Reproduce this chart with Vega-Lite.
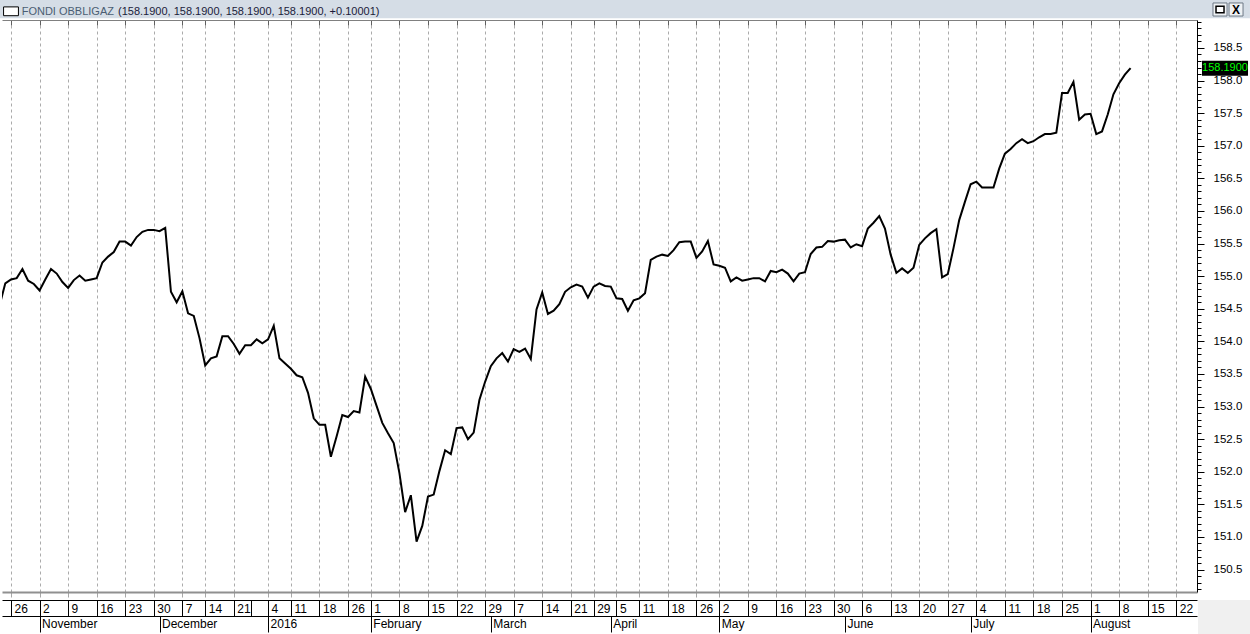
{
  "$schema": "https://vega.github.io/schema/vega-lite/v6.json",
  "width": 1195,
  "height": 572,
  "autosize": {"type": "none"},
  "padding": {"left": 2, "top": 20, "right": 53, "bottom": 42},
  "background": "white",
  "config": {"view": {"stroke": null}, "font": "Liberation Sans"},
  "datasets": {
    "nav": [
      {"i":-2,"v":154.55},{"i":-1,"v":154.89},{"i":0,"v":154.95},{"i":1,"v":154.97},{"i":2,"v":155.11},{"i":3,"v":154.93},{"i":4,"v":154.88},{"i":5,"v":154.78},{"i":6,"v":154.95},{"i":7,"v":155.11},{"i":8,"v":155.04},{"i":9,"v":154.91},{"i":10,"v":154.82},{"i":11,"v":154.94},{"i":12,"v":155.01},{"i":13,"v":154.93},{"i":14,"v":154.95},{"i":15,"v":154.97},{"i":16,"v":155.21},{"i":17,"v":155.30},{"i":18,"v":155.37},{"i":19,"v":155.53},{"i":20,"v":155.53},{"i":21,"v":155.47},{"i":22,"v":155.60},{"i":23,"v":155.68},{"i":24,"v":155.71},{"i":25,"v":155.71},{"i":26,"v":155.69},{"i":27,"v":155.74},{"i":28,"v":154.76},{"i":29,"v":154.60},
      {"i":30,"v":154.77},{"i":31,"v":154.43},{"i":32,"v":154.39},{"i":33,"v":154.05},{"i":34,"v":153.63},{"i":35,"v":153.74},{"i":36,"v":153.77},{"i":37,"v":154.08},{"i":38,"v":154.08},{"i":39,"v":153.96},{"i":40,"v":153.81},{"i":41,"v":153.94},{"i":42,"v":153.94},{"i":43,"v":154.03},{"i":44,"v":153.97},{"i":45,"v":154.03},{"i":46,"v":154.24},{"i":47,"v":153.74},{"i":48,"v":153.66},{"i":49,"v":153.58},{"i":50,"v":153.48},{"i":51,"v":153.45},{"i":52,"v":153.21},{"i":53,"v":152.82},{"i":54,"v":152.72},{"i":55,"v":152.72},{"i":56,"v":152.23},{"i":57,"v":152.54},{"i":58,"v":152.87},{"i":59,"v":152.84},
      {"i":60,"v":152.93},{"i":61,"v":152.91},{"i":62,"v":153.46},{"i":63,"v":153.27},{"i":64,"v":153.01},{"i":65,"v":152.75},{"i":66,"v":152.59},{"i":67,"v":152.44},{"i":68,"v":151.98},{"i":69,"v":151.38},{"i":70,"v":151.64},{"i":71,"v":150.93},{"i":72,"v":151.17},{"i":73,"v":151.62},{"i":74,"v":151.65},{"i":75,"v":152.01},{"i":76,"v":152.33},{"i":77,"v":152.27},{"i":78,"v":152.67},{"i":79,"v":152.68},{"i":80,"v":152.50},{"i":81,"v":152.60},{"i":82,"v":153.10},{"i":83,"v":153.38},{"i":84,"v":153.62},{"i":85,"v":153.74},{"i":86,"v":153.82},{"i":87,"v":153.69},{"i":88,"v":153.88},{"i":89,"v":153.84},
      {"i":90,"v":153.89},{"i":91,"v":153.73},{"i":92,"v":154.49},{"i":93,"v":154.75},{"i":94,"v":154.42},{"i":95,"v":154.47},{"i":96,"v":154.57},{"i":97,"v":154.76},{"i":98,"v":154.83},{"i":99,"v":154.87},{"i":100,"v":154.84},{"i":101,"v":154.67},{"i":102,"v":154.84},{"i":103,"v":154.89},{"i":104,"v":154.85},{"i":105,"v":154.84},{"i":106,"v":154.66},{"i":107,"v":154.65},{"i":108,"v":154.47},{"i":109,"v":154.63},{"i":110,"v":154.66},{"i":111,"v":154.74},{"i":112,"v":155.25},{"i":113,"v":155.30},{"i":114,"v":155.33},{"i":115,"v":155.31},{"i":116,"v":155.40},{"i":117,"v":155.52},{"i":118,"v":155.53},{"i":119,"v":155.53},
      {"i":120,"v":155.28},{"i":121,"v":155.38},{"i":122,"v":155.54},{"i":123,"v":155.18},{"i":124,"v":155.16},{"i":125,"v":155.13},{"i":126,"v":154.92},{"i":127,"v":154.98},{"i":128,"v":154.93},{"i":129,"v":154.95},{"i":130,"v":154.97},{"i":131,"v":154.97},{"i":132,"v":154.92},{"i":133,"v":155.08},{"i":134,"v":155.06},{"i":135,"v":155.10},{"i":136,"v":155.04},{"i":137,"v":154.92},{"i":138,"v":155.04},{"i":139,"v":155.06},{"i":140,"v":155.34},{"i":141,"v":155.44},{"i":142,"v":155.45},{"i":143,"v":155.54},{"i":144,"v":155.53},{"i":145,"v":155.55},{"i":146,"v":155.56},{"i":147,"v":155.44},{"i":148,"v":155.49},{"i":149,"v":155.46},
      {"i":150,"v":155.73},{"i":151,"v":155.82},{"i":152,"v":155.92},{"i":153,"v":155.73},{"i":154,"v":155.33},{"i":155,"v":155.05},{"i":156,"v":155.12},{"i":157,"v":155.05},{"i":158,"v":155.13},{"i":159,"v":155.48},{"i":160,"v":155.58},{"i":161,"v":155.66},{"i":162,"v":155.72},{"i":163,"v":154.98},{"i":164,"v":155.03},{"i":165,"v":155.43},{"i":166,"v":155.86},{"i":167,"v":156.14},{"i":168,"v":156.41},{"i":169,"v":156.45},{"i":170,"v":156.36},{"i":171,"v":156.36},{"i":172,"v":156.36},{"i":173,"v":156.65},{"i":174,"v":156.88},{"i":175,"v":156.95},{"i":176,"v":157.04},{"i":177,"v":157.10},{"i":178,"v":157.04},{"i":179,"v":157.07},
      {"i":180,"v":157.13},{"i":181,"v":157.18},{"i":182,"v":157.18},{"i":183,"v":157.20},{"i":184,"v":157.81},{"i":185,"v":157.81},{"i":186,"v":157.98},{"i":187,"v":157.40},{"i":188,"v":157.48},{"i":189,"v":157.49},{"i":190,"v":157.18},{"i":191,"v":157.22},{"i":192,"v":157.48},{"i":193,"v":157.79},{"i":194,"v":157.96},{"i":195,"v":158.09},{"i":196,"v":158.19}
    ],
    "lastValue": [{"v": 158.19, "label": "158.1900"}],
    "one": [{"item": "decoration"}]
  },
  "layer": [
    {
      "data": {"name": "one"},
      "mark": {"type": "rect", "fill": "#d5dde6"},
      "encoding": {
        "x": {"datum": -1.93, "type": "quantitative", "scale": {"domain": [-1.576, 207.63], "nice": false, "zero": false}, "axis": null},
        "x2": {"datum": 216.9},
        "y": {"datum": 159.24, "type": "quantitative", "scale": {"domain": [150.156, 158.929], "nice": false, "zero": false}, "axis": null},
        "y2": {"datum": 158.955}
      }
    },
    {
      "data": {"name": "one"},
      "mark": {"type": "rect", "fill": "white", "stroke": "black", "strokeWidth": 1},
      "encoding": {
        "x": {"datum": -1.3, "type": "quantitative", "scale": {"domain": [-1.576, 207.63], "nice": false, "zero": false}, "axis": null},
        "x2": {"datum": 1.3},
        "y": {"datum": 159.13, "type": "quantitative", "scale": {"domain": [150.156, 158.929], "nice": false, "zero": false}, "axis": null},
        "y2": {"datum": 158.995}
      }
    },
    {
      "data": {"name": "one"},
      "mark": {"type": "text", "text": "FONDI OBBLIGAZ", "align": "left", "baseline": "alphabetic", "font": "Liberation Sans", "fontSize": 11, "fill": "#4b5d73"},
      "encoding": {
        "x": {"datum": 1.87, "type": "quantitative", "scale": {"domain": [-1.576, 207.63], "nice": false, "zero": false}, "axis": null},
        "y": {"datum": 159.006, "type": "quantitative", "scale": {"domain": [150.156, 158.929], "nice": false, "zero": false}, "axis": null}
      }
    },
    {
      "data": {"name": "one"},
      "mark": {"type": "text", "text": "(158.1900, 158.1900, 158.1900, 158.1900, +0.10001)", "align": "left", "baseline": "alphabetic", "font": "Liberation Sans", "fontSize": 11, "fill": "#1b1b3a"},
      "encoding": {
        "x": {"datum": 18.73, "type": "quantitative", "scale": {"domain": [-1.576, 207.63], "nice": false, "zero": false}, "axis": null},
        "y": {"datum": 159.006, "type": "quantitative", "scale": {"domain": [150.156, 158.929], "nice": false, "zero": false}, "axis": null}
      }
    },
    {
      "data": {"name": "one"},
      "mark": {"type": "rect", "fill": "#eef1f4", "stroke": "#6d7885", "strokeWidth": 1},
      "encoding": {
        "x": {"datum": 210.43, "type": "quantitative", "scale": {"domain": [-1.576, 207.63], "nice": false, "zero": false}, "axis": null},
        "x2": {"datum": 212.89},
        "y": {"datum": 159.19, "type": "quantitative", "scale": {"domain": [150.156, 158.929], "nice": false, "zero": false}, "axis": null},
        "y2": {"datum": 158.99}
      }
    },
    {
      "data": {"name": "one"},
      "mark": {"type": "rect", "fill": "#eef1f4", "stroke": "#6d7885", "strokeWidth": 1},
      "encoding": {
        "x": {"datum": 213.24, "type": "quantitative", "scale": {"domain": [-1.576, 207.63], "nice": false, "zero": false}, "axis": null},
        "x2": {"datum": 215.69},
        "y": {"datum": 159.19, "type": "quantitative", "scale": {"domain": [150.156, 158.929], "nice": false, "zero": false}, "axis": null},
        "y2": {"datum": 158.99}
      }
    },
    {
      "data": {"name": "one"},
      "mark": {"type": "rect", "fill": "white", "stroke": "black", "strokeWidth": 1.5},
      "encoding": {
        "x": {"datum": 210.96, "type": "quantitative", "scale": {"domain": [-1.576, 207.63], "nice": false, "zero": false}, "axis": null},
        "x2": {"datum": 212.36},
        "y": {"datum": 159.14, "type": "quantitative", "scale": {"domain": [150.156, 158.929], "nice": false, "zero": false}, "axis": null},
        "y2": {"datum": 159.04}
      }
    },
    {
      "data": {"name": "one"},
      "mark": {"type": "text", "text": "X", "align": "center", "baseline": "middle", "font": "Liberation Sans", "fontWeight": "bold", "fontSize": 12, "fill": "black"},
      "encoding": {
        "x": {"datum": 214.47, "type": "quantitative", "scale": {"domain": [-1.576, 207.63], "nice": false, "zero": false}, "axis": null},
        "y": {"datum": 159.09, "type": "quantitative", "scale": {"domain": [150.156, 158.929], "nice": false, "zero": false}, "axis": null}
      }
    },
    {
      "data": {"name": "one"},
      "mark": {"type": "rect", "fill": "#f0f0f0"},
      "encoding": {
        "x": {"datum": 207.81, "type": "quantitative", "scale": {"domain": [-1.576, 207.63], "nice": false, "zero": false}, "axis": null},
        "x2": {"datum": 216.9},
        "y": {"datum": 150.034, "type": "quantitative", "scale": {"domain": [150.156, 158.929], "nice": false, "zero": false}, "axis": null},
        "y2": {"datum": 149.51}
      }
    },
    {
      "data": {"name": "lastValue"},
      "mark": {"type": "rect", "fill": "black"},
      "encoding": {
        "x": {"datum": 208.5, "type": "quantitative", "scale": {"domain": [-1.576, 207.63], "nice": false, "zero": false}, "axis": null},
        "x2": {"datum": 216.56},
        "y": {"datum": 158.305, "type": "quantitative", "scale": {"domain": [150.156, 158.929], "nice": false, "zero": false}, "axis": null},
        "y2": {"datum": 158.075}
      }
    },
    {
      "data": {"name": "lastValue"},
      "mark": {"type": "text", "align": "center", "baseline": "middle", "font": "Liberation Sans", "fontSize": 11, "fill": "#00ff00"},
      "encoding": {
        "x": {"datum": 212.53, "type": "quantitative", "scale": {"domain": [-1.576, 207.63], "nice": false, "zero": false}, "axis": null},
        "y": {"field": "v", "type": "quantitative", "scale": {"domain": [150.156, 158.929], "nice": false, "zero": false}, "axis": null},
        "text": {"field": "label"}
      }
    },
    {
      "data": {"name": "nav"},
      "mark": {"type": "point", "opacity": 0},
      "encoding": {
        "x": {"field": "i", "type": "quantitative", "scale": {"domain": [-1.576, 207.63], "nice": false, "zero": false},
          "axis": {"orient": "bottom", "offset": 0, "title": null, "labels": false, "grid": false,
            "values": [0,5,10,15,20,25,30,34,39,45,49,54,59,63,68,73,78,83,88,93,98,102,106,110,115,120,124,129,134,139,144,149,154,159,164,169,174,179,184,189,194,199,204],
            "tickSize": 5, "tickColor": "#a8a8a8", "domainColor": "#909090", "domainWidth": 2}},
        "y": {"field": "v", "type": "quantitative", "scale": {"domain": [150.156, 158.929], "nice": false, "zero": false}, "axis": null}
      }
    },
    {
      "data": {"name": "nav"},
      "mark": {"type": "point", "opacity": 0},
      "encoding": {
        "x": {"field": "i", "type": "quantitative", "scale": {"domain": [-1.576, 207.63], "nice": false, "zero": false},
          "axis": {"orient": "bottom", "offset": 8, "title": null, "grid": false,
            "values": [0,5,10,15,20,25,30,34,39,42,45,49,54,59,63,68,73,78,83,88,93,98,102,106,110,115,120,124,129,134,139,144,149,154,159,164,169,174,179,184,189,194,199,204],
            "labelExpr": "['26','2','9','16','23','30','7','14','21','','4','11','18','26','1','8','15','22','29','7','14','21','29','5','11','18','26','2','9','16','23','30','6','13','20','27','4','11','18','25','1','8','15','22'][indexof([0,5,10,15,20,25,30,34,39,42,45,49,54,59,63,68,73,78,83,88,93,98,102,106,110,115,120,124,129,134,139,144,149,154,159,164,169,174,179,184,189,194,199,204], datum.value)]",
            "tickSize": 16, "tickColor": "black", "domainColor": "black",
            "labelAlign": "left", "labelBaseline": "top", "labelPadding": -13, "labelOffset": 3,
            "labelFont": "Liberation Sans", "labelFontSize": 12, "labelColor": "black",
            "labelOverlap": false, "labelFlush": false, "labelBound": false}},
        "y": {"field": "v", "type": "quantitative", "scale": {"domain": [150.156, 158.929], "nice": false, "zero": false}, "axis": null}
      }
    },
    {
      "data": {"name": "nav"},
      "mark": {"type": "point", "opacity": 0},
      "encoding": {
        "x": {"field": "i", "type": "quantitative", "scale": {"domain": [-1.576, 207.63], "nice": false, "zero": false},
          "axis": {"orient": "bottom", "offset": 24, "title": null, "grid": false,
            "values": [5,26,45,63,84,105,124,146,168,189],
            "labelExpr": "['November','December','2016','February','March','April','May','June','July','August'][indexof([5,26,45,63,84,105,124,146,168,189], datum.value)]",
            "tickSize": 16, "tickColor": "black", "domainColor": "black",
            "labelAlign": "left", "labelBaseline": "top", "labelPadding": -14, "labelOffset": 2,
            "labelFont": "Liberation Sans", "labelFontSize": 12, "labelColor": "black",
            "labelOverlap": false, "labelFlush": false, "labelBound": false}},
        "y": {"field": "v", "type": "quantitative", "scale": {"domain": [150.156, 158.929], "nice": false, "zero": false}, "axis": null}
      }
    },
    {
      "data": {"name": "nav"},
      "mark": {"type": "line", "color": "black", "strokeWidth": 2, "clip": true},
      "encoding": {
        "x": {"field": "i", "type": "quantitative", "scale": {"domain": [-1.576, 207.63], "nice": false, "zero": false},
          "axis": {"orient": "top", "title": null, "labels": false,
            "values": [0,5,10,15,20,25,30,34,39,45,49,54,59,63,68,73,78,83,88,93,98,102,106,110,115,120,124,129,134,139,144,149,154,159,164,169,174,179,184,189,194,199,204],
            "tickSize": -5, "tickColor": "#606060", "domainColor": "#808080",
            "grid": true, "gridDash": [3, 3], "gridColor": "#ababab", "gridWidth": 1}},
        "y": {"field": "v", "type": "quantitative", "scale": {"domain": [150.156, 158.929], "nice": false, "zero": false},
          "axis": {"orient": "right", "title": null, "grid": false,
            "values": [150.2,150.3,150.4,150.5,150.6,150.7,150.8,150.9,151,151.1,151.2,151.3,151.4,151.5,151.6,151.7,151.8,151.9,152,152.1,152.2,152.3,152.4,152.5,152.6,152.7,152.8,152.9,153,153.1,153.2,153.3,153.4,153.5,153.6,153.7,153.8,153.9,154,154.1,154.2,154.3,154.4,154.5,154.6,154.7,154.8,154.9,155,155.1,155.2,155.3,155.4,155.5,155.6,155.7,155.8,155.9,156,156.1,156.2,156.3,156.4,156.5,156.6,156.7,156.8,156.9,157,157.1,157.2,157.3,157.4,157.5,157.6,157.7,157.8,157.9,158,158.1,158.2,158.3,158.4,158.5,158.6,158.7,158.8,158.9],
            "labelExpr": "abs(datum.value*2 - round(datum.value*2)) < 0.01 ? format(datum.value, '.1f') : ''",
            "tickSize": {"condition": {"test": "abs(datum.value*2 - round(datum.value*2)) < 0.01", "value": 7}, "value": 4},
            "tickColor": "black", "domainColor": "black",
            "labelPadding": 9, "labelFont": "Liberation Sans", "labelFontSize": 11.5, "labelColor": "black",
            "labelOverlap": false, "labelFlush": false, "labelBound": false}}
      }
    }
  ],
  "resolve": {"axis": {"x": "independent", "y": "independent"}}
}
